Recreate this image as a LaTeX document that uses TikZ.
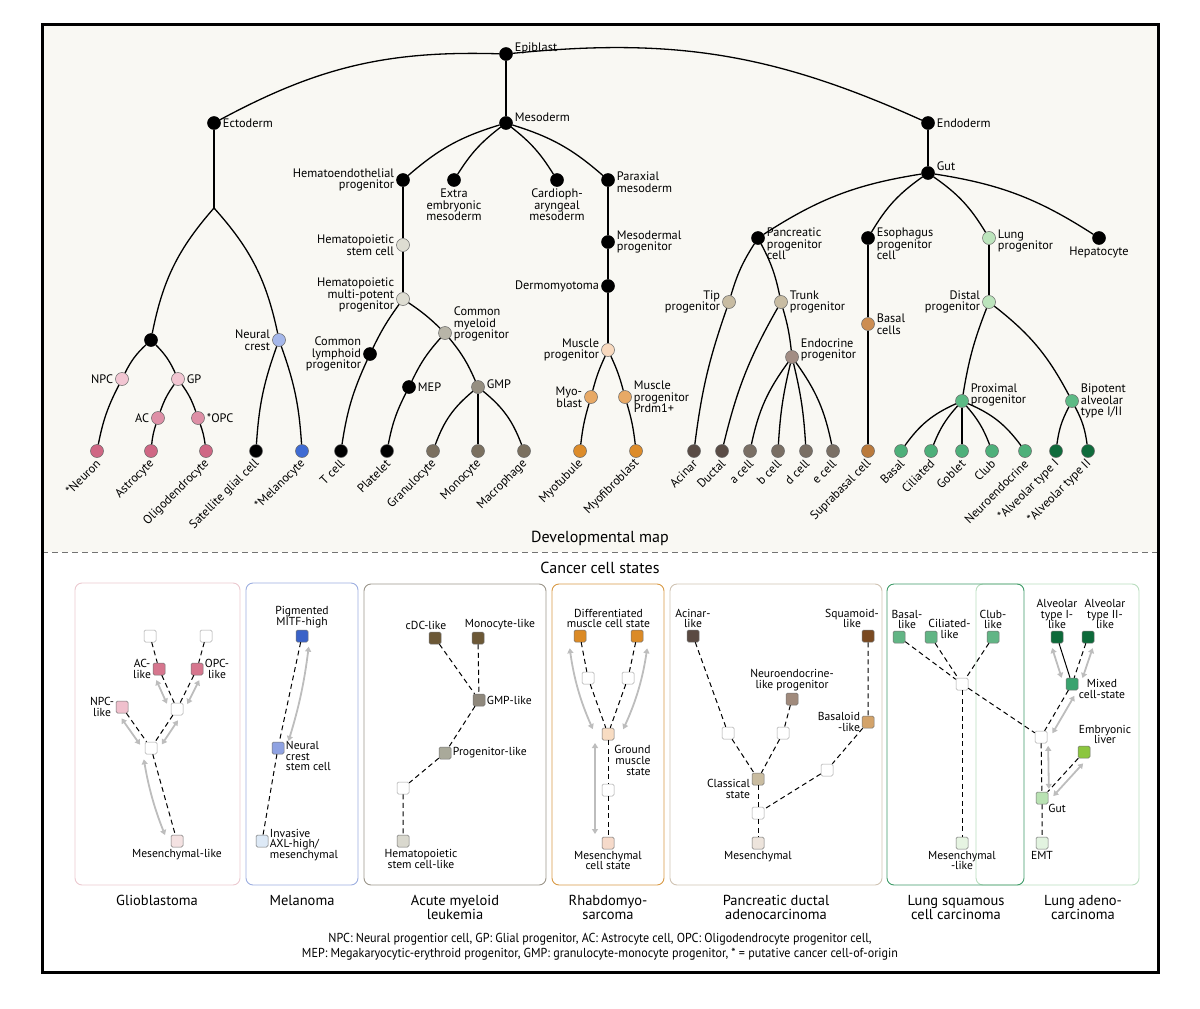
\documentclass[tikz,border=0pt]{standalone}
\usepackage{fontspec}
\setmainfont{PT Sans}
\newfontfamily\notefont[FakeStretch=0.93]{PT Sans}
\usetikzlibrary{arrows.meta,positioning,calc}

\definecolor{cCream}{HTML}{F9F8F3}
\definecolor{cNeurLight}{HTML}{F2C6D2}
\definecolor{cNeurMid}{HTML}{DE8FA6}
\definecolor{cNeurLeaf}{HTML}{CF6784}
\definecolor{cCrest}{HTML}{A5B7EA}
\definecolor{cMelano}{HTML}{3F6BD3}
\definecolor{cHsc}{HTML}{DEDDD2}
\definecolor{cCmp}{HTML}{B8B5A8}
\definecolor{cGmp}{HTML}{968F81}
\definecolor{cMyeLeaf}{HTML}{7B705F}
\definecolor{cMuscLight}{HTML}{F8D9BE}
\definecolor{cMuscMid}{HTML}{E8A965}
\definecolor{cMuscLeaf}{HTML}{DD8C2A}
\definecolor{cPanc}{HTML}{C8BCA2}
\definecolor{cEndoProg}{HTML}{A28D84}
\definecolor{cPancDark}{HTML}{5A4C45}
\definecolor{cEndoLeaf}{HTML}{7A6F64}
\definecolor{cBasalCell}{HTML}{CC8D52}
\definecolor{cEsoLeaf}{HTML}{BA7A3C}
\definecolor{cLungLight}{HTML}{BCE4BC}
\definecolor{cLungMid}{HTML}{5DBA85}
\definecolor{cLungLeaf}{HTML}{4EB07A}
\definecolor{cAlveo}{HTML}{0F6B3B}
\definecolor{cGbmMid}{HTML}{D6768E}
\definecolor{cGbmLight}{HTML}{F0C0CD}
\definecolor{cGbmPale}{HTML}{F4E2E2}
\definecolor{cMelDark}{HTML}{3A62C8}
\definecolor{cMelMid}{HTML}{8FA2E2}
\definecolor{cMelPale}{HTML}{DDE9F6}
\definecolor{cAmlDark}{HTML}{6C5836}
\definecolor{cAmlGmp}{HTML}{8F887C}
\definecolor{cAmlProg}{HTML}{A9A99A}
\definecolor{cAmlPale}{HTML}{D9D8CE}
\definecolor{cRmsDiff}{HTML}{DB8A26}
\definecolor{cRmsGround}{HTML}{F8DCC2}
\definecolor{cRmsMes}{HTML}{F6DACA}
\definecolor{cPdAcinar}{HTML}{5A4A42}
\definecolor{cPdSquam}{HTML}{7A4A22}
\definecolor{cPdNe}{HTML}{A08A7C}
\definecolor{cPdBasal}{HTML}{D3A36A}
\definecolor{cPdClass}{HTML}{C9BCA0}
\definecolor{cPdMes}{HTML}{EDE4DC}
\definecolor{cLsc}{HTML}{62B585}
\definecolor{cLscPale}{HTML}{E6F4E2}
\definecolor{cLadDark}{HTML}{0D6A3A}
\definecolor{cLadMixed}{HTML}{3AA36F}
\definecolor{cLadLiver}{HTML}{8CC63F}
\definecolor{cLadGut}{HTML}{B9E2B3}
\definecolor{cLadEmt}{HTML}{E2F3E0}
\definecolor{cFrGbm}{HTML}{EBC9CF}
\definecolor{cFrMel}{HTML}{9DAEE0}
\definecolor{cFrAml}{HTML}{9B958A}
\definecolor{cFrRms}{HTML}{D89A46}
\definecolor{cFrPd}{HTML}{CFC3B3}
\definecolor{cFrLsc}{HTML}{3E9A68}
\definecolor{cFrLad}{HTML}{B9DDBF}
\definecolor{cArrow}{HTML}{BDBDBD}

\newcommand{\treefont}{\fontsize{12.3}{11.6}\selectfont}
\newcommand{\statefont}{\fontsize{11.6}{10.9}\selectfont}
\newcommand{\captfont}{\fontsize{14.5}{14}\selectfont}
\newcommand{\statearrow}[5][]{%
  \draw[statearr] ($(#2)!#5!#4:(#3)$) to[#1] ($(#3)!#5!#4-180:(#2)$);}

\begin{document}
\begin{tikzpicture}[
    x=1pt, y=-1pt,
    cell/.style={circle, draw=black!60, line width=0.5pt, minimum size=13pt, inner sep=0pt},
    blk/.style={cell, draw=black, fill=black},
    lbl/.style={font=\treefont, inner sep=2pt, align=center},
    leaflbl/.style={font=\treefont, rotate=45, anchor=east, inner sep=1pt},
    branch/.style={line width=1.3pt},
    stbox/.style={rectangle, rounded corners=1.5pt, draw=black!55, line width=0.5pt, minimum size=12pt, inner sep=0pt},
    stblank/.style={stbox, fill=white, draw=black!35},
    stlbl/.style={font=\statefont, inner sep=1.5pt, align=center},
    transition/.style={line width=1pt, dash pattern=on 5pt off 3.5pt},
    statearr/.style={draw=cArrow, line width=1.8pt, {Triangle[length=5pt,width=6pt]}-{Triangle[length=5pt,width=6pt]}, shorten <=9pt, shorten >=9pt},
    panel/.style={rounded corners=7pt, line width=0.9pt},
    caption/.style={font=\captfont, align=center, anchor=north}
]
\useasboundingbox (0,0) rectangle (1200,1009);
\fill[cCream] (42,24) rectangle (1158,552);
\draw[black!55, line width=0.8pt, dash pattern=on 6pt off 4pt] (42,552) -- (1158,552);

\node[blk, label={[lbl, yshift=6pt]right:Epiblast}] (epi) at (506,54) {};
\node[blk, label={[lbl]right:Ectoderm}] (ecto) at (214,123) {};
\coordinate (ectsplit) at (214,208);
\node[blk] (neuroect) at (151,340) {};
\node[cell, fill=cNeurLight, label={[lbl]left:NPC}] (npc) at (122,379) {};
\node[cell, fill=cNeurLight, label={[lbl]right:GP}] (gp) at (178,379) {};
\node[cell, fill=cNeurMid, label={[lbl]left:AC}] (ac) at (158,418) {};
\node[cell, fill=cNeurMid, label={[lbl]right:*OPC}] (opc) at (198,418) {};
\node[cell, fill=cCrest, label={[lbl, align=right]left:{Neural\\crest}}] (crest) at (279,340) {};

\node[blk, label={[lbl, yshift=6pt]right:Mesoderm}] (meso) at (506,123) {};
\node[blk, label={[lbl, align=right]left:{Hematoendothelial\\progenitor}}] (hemendo) at (403,180) {};
\node[blk, label={[lbl]below:{Extra\\embryonic\\mesoderm}}] (extra) at (454,180) {};
\node[blk, label={[lbl]below:{Cardioph-\\aryngeal\\mesoderm}}] (cardio) at (557,180) {};
\node[blk, label={[lbl, align=left, yshift=-2pt]right:{Paraxial\\mesoderm}}] (parax) at (608,180) {};
\node[cell, fill=cHsc, label={[lbl, align=right]left:{Hematopoietic\\stem cell}}] (hsc) at (403,245) {};
\node[cell, fill=cHsc, label={[lbl, align=right, yshift=4pt]left:{Hematopoietic\\multi-potent\\progenitor}}] (hmpp) at (403,299) {};
\node[blk, label={[lbl, align=right]left:{Common\\lymphoid\\progenitor}}] (clp) at (370,354) {};
\node[cell, fill=cCmp, label={[lbl, align=left, yshift=9pt]right:{Common\\myeloid\\progenitor}}] (cmp) at (445,333) {};
\node[blk, label={[lbl]right:MEP}] (mep) at (409,387) {};
\node[cell, fill=cGmp, label={[lbl, yshift=3pt]right:GMP}] (gmp) at (478,387) {};
\node[blk, label={[lbl, align=left]right:{Mesodermal\\progenitor}}] (mesoprog) at (608,242) {};
\node[blk, label={[lbl]left:Dermomyotoma}] (dermo) at (608,286) {};
\node[cell, fill=cMuscLight, label={[lbl, align=right]left:{Muscle\\progenitor}}] (muscprog) at (608,350) {};
\node[cell, fill=cMuscMid, label={[lbl, align=right]left:{Myo-\\blast}}] (myoblast) at (591,397) {};
\node[cell, fill=cMuscMid, label={[lbl, align=left]right:{Muscle\\progenitor\\Prdm1+}}] (prdm) at (625,397) {};

\node[blk, label={[lbl]right:Endoderm}] (endo) at (928,123) {};
\node[blk, label={[lbl, yshift=7pt]right:Gut}] (gut) at (928,173) {};
\node[blk, label={[lbl, align=left, yshift=-6pt]right:{Pancreatic\\progenitor\\cell}}] (pancprog) at (758,238) {};
\node[blk, label={[lbl, align=left, yshift=-6pt]right:{Esophagus\\progenitor\\cell}}] (esoprog) at (868,238) {};
\node[cell, fill=cLungLight, label={[lbl, align=left, yshift=-3pt]right:{Lung\\progenitor}}] (lungprog) at (989,238) {};
\node[blk, label={[lbl]below:Hepatocyte}] (hepato) at (1099,238) {};
\node[cell, fill=cPanc, label={[lbl, align=right]left:{Tip\\progenitor}}] (tip) at (729,302) {};
\node[cell, fill=cPanc, label={[lbl, align=left]right:{Trunk\\progenitor}}] (trunk) at (781,302) {};
\node[cell, fill=cEndoProg, label={[lbl, align=left, yshift=7pt]right:{Endocrine\\progenitor}}] (endocr) at (792,357) {};
\node[cell, fill=cBasalCell, label={[lbl, align=left]right:{Basal\\cells}}] (basalcells) at (868,324) {};
\node[cell, fill=cLungLight, label={[lbl, align=right]left:{Distal\\progenitor}}] (distal) at (989,302) {};
\node[cell, fill=cLungMid, label={[lbl, align=left, yshift=6pt]right:{Proximal\\progenitor}}] (proximal) at (962,401) {};
\node[cell, fill=cLungMid, label={[lbl, align=left]right:{Bipotent\\alveolar\\type I/II}}] (bipot) at (1072,401) {};

\foreach \nm/\x/\col/\txt in {neuron/97/cNeurLeaf/*Neuron, astro/151/cNeurLeaf/Astrocyte,
    oligo/206/cNeurLeaf/Oligodendrocyte, satglia/256/black/Satellite glial cell,
    melano/302/cMelano/*Melanocyte, tcell/341/black/T cell, platelet/387/black/Platelet,
    granulo/433/cMyeLeaf/Granulocyte, mono/478/cMyeLeaf/Monocyte, macro/524/cMyeLeaf/Macrophage,
    myotub/580/cMuscLeaf/Myotubule, myofib/636/cMuscLeaf/Myofibroblast,
    acinar/694/cPancDark/Acinar, ductal/722/cPancDark/Ductal, acell/750/cEndoLeaf/a cell,
    bcell/778/cEndoLeaf/b cell, dcell/806/cEndoLeaf/d cell, ecell/833/cEndoLeaf/e cell,
    suprab/868/cEsoLeaf/Suprabasal cell, basal/901/cLungLeaf/Basal, cilia/931/cLungLeaf/Ciliated,
    goblet/962/cLungLeaf/Goblet, club/992/cLungLeaf/Club, neuroend/1025/cLungLeaf/Neuroendocrine,
    atone/1056/cAlveo/*Alveolar type I, attwo/1088/cAlveo/*Alveolar type II} {
  \node[cell, fill=\col] (\nm) at (\x,451) {};
  \node[leaflbl] at ([xshift=2pt, yshift=-10pt]\nm.center) {\txt};
}

\draw[branch] (epi) to[bend right=15] (ecto);
\draw[branch] (epi) -- (meso);
\draw[branch] (epi) to[bend left=15] (endo);
\draw[branch] (ecto) -- (ectsplit);
\draw[branch] (ectsplit) to[bend right=15] (neuroect);
\draw[branch] (ectsplit) to[bend left=15] (crest);
\draw[branch] (neuroect) to[bend right=10] (npc);
\draw[branch] (neuroect) to[bend left=10] (gp);
\draw[branch] (npc) to[bend right=8] (neuron);
\draw[branch] (gp) to[bend right=8] (ac);
\draw[branch] (gp) to[bend left=8] (opc);
\draw[branch] (ac) to[bend right=6] (astro);
\draw[branch] (opc) to[bend left=6] (oligo);
\draw[branch] (crest) to[bend right=8] (satglia);
\draw[branch] (crest) to[bend left=8] (melano);
\draw[branch] (meso) to[bend right=12] (hemendo);
\draw[branch] (meso) to[bend right=10] (extra);
\draw[branch] (meso) to[bend left=10] (cardio);
\draw[branch] (meso) to[bend left=12] (parax);
\draw[branch] (hemendo) -- (hsc) -- (hmpp);
\draw[branch] (hmpp) to[bend right=5] (clp);
\draw[branch] (hmpp) to[bend left=5] (cmp);
\draw[branch] (clp) to[bend right=8] (tcell);
\draw[branch] (cmp) to[bend right=8] (mep);
\draw[branch] (cmp) to[bend left=8] (gmp);
\draw[branch] (mep) to[bend right=8] (platelet);
\draw[branch] (gmp) to[bend right=15] (granulo);
\draw[branch] (gmp) -- (mono);
\draw[branch] (gmp) to[bend left=15] (macro);
\draw[branch] (parax) -- (mesoprog) -- (dermo) -- (muscprog);
\draw[branch] (muscprog) to[bend right=5] (myoblast);
\draw[branch] (muscprog) to[bend left=5] (prdm);
\draw[branch] (myoblast) to[bend right=5] (myotub);
\draw[branch] (prdm) to[bend left=5] (myofib);
\draw[branch] (endo) -- (gut);
\draw[branch] (gut) to[bend right=12] (pancprog);
\draw[branch] (gut) to[bend right=12] (esoprog);
\draw[branch] (gut) to[bend left=12] (lungprog);
\draw[branch] (gut) to[bend left=12] (hepato);
\draw[branch] (pancprog) to[bend right=8] (tip);
\draw[branch] (pancprog) to[bend left=8] (trunk);
\draw[branch] (tip) to[bend right=6] (acinar);
\draw[branch] (trunk) to[bend right=8] (ductal);
\draw[branch] (trunk) to[bend left=5] (endocr);
\draw[branch] (endocr) to[bend right=12] (acell);
\draw[branch] (endocr) to[bend right=5] (bcell);
\draw[branch] (endocr) to[bend left=5] (dcell);
\draw[branch] (endocr) to[bend left=12] (ecell);
\draw[branch] (esoprog) -- (basalcells) -- (suprab);
\draw[branch] (lungprog) -- (distal);
\draw[branch] (distal) to[bend right=6] (proximal);
\draw[branch] (distal) to[bend left=12] (bipot);
\draw[branch] (proximal) to[bend right=15] (basal);
\draw[branch] (proximal) to[bend right=10] (cilia);
\draw[branch] (proximal) -- (goblet);
\draw[branch] (proximal) to[bend left=10] (club);
\draw[branch] (proximal) to[bend left=15] (neuroend);
\draw[branch] (bipot) to[bend right=10] (atone);
\draw[branch] (bipot) to[bend left=10] (attwo);

\node[font=\fontsize{16}{16}\selectfont] at (600,538) {Developmental map};
\node[font=\fontsize{16}{16}\selectfont] at (600,568) {Cancer cell states};

\draw[panel, draw=cFrGbm] (75,583) rectangle (240,885);
\draw[panel, draw=cFrMel] (246,583) rectangle (358,885);
\draw[panel, draw=cFrAml] (364,584) rectangle (546,885);
\draw[panel, draw=cFrRms] (552,584) rectangle (664,885);
\draw[panel, draw=cFrPd] (670,584) rectangle (882,885);
\draw[panel, draw=cFrLad] (976,584) rectangle (1139,885);
\draw[panel, draw=cFrLsc] (887,584) rectangle (1024,885);

\node[caption] at (157,892) {Glioblastoma};
\node[caption] at (302,892) {Melanoma};
\node[caption] at (455,892) {Acute myeloid\\leukemia};
\node[caption] at (608,892) {Rhabdomyo-\\sarcoma};
\node[caption] at (776,892) {Pancreatic ductal\\adenocarcinoma};
\node[caption] at (956,892) {Lung squamous\\cell carcinoma};
\node[caption] at (1083,892) {Lung adeno-\\carcinoma};

\node[stblank] (gtopa) at (150,636) {};
\node[stblank] (gtopb) at (206,636) {};
\node[stbox, fill=cGbmMid, label={[stlbl]left:{AC-\\like}}] (aclike) at (159,669) {};
\node[stbox, fill=cGbmMid, label={[stlbl]right:{OPC-\\like}}] (opclike) at (197,669) {};
\node[stblank] (gmida) at (177,709) {};
\node[stbox, fill=cGbmLight, label={[stlbl]left:{NPC-\\like}}] (npclike) at (122,707) {};
\node[stblank] (gmidb) at (151,748) {};
\node[stbox, fill=cGbmPale, label={[stlbl]below:Mesenchymal-like}] (meslike) at (177,841) {};
\draw[transition] (gtopa) -- (aclike) -- (gmida);
\draw[transition] (gtopb) -- (opclike) -- (gmida);
\draw[transition] (gmida) -- (gmidb);
\draw[transition] (npclike) -- (gmidb);
\draw[transition] (gmidb) -- (meslike);
\statearrow{aclike}{gmida}{-90}{7pt}
\statearrow{opclike}{gmida}{90}{7pt}
\statearrow{npclike}{gmidb}{-90}{7pt}
\statearrow{gmida}{gmidb}{90}{7pt}
\statearrow[bend right=6]{gmidb}{meslike}{-90}{9pt}

\node[stbox, fill=cMelDark, label={[stlbl]above:{Pigmented\\MITF-high}}] (pigm) at (302,636) {};
\node[stbox, fill=cMelMid, label={[stlbl, align=left, yshift=-8pt]right:{Neural\\crest\\stem cell}}] (ncsc) at (278,748) {};
\node[stbox, fill=cMelPale, label={[stlbl, align=left, yshift=-4pt]right:{Invasive\\AXL-high/\\mesenchymal}}] (invasive) at (262,841) {};
\draw[transition] (pigm) -- (ncsc) -- (invasive);
\statearrow[bend left=5]{pigm}{ncsc}{90}{8pt}

\node[stbox, fill=cAmlDark, label={[stlbl, xshift=-9pt]above:cDC-like}] (cdc) at (435,638) {};
\node[stbox, fill=cAmlDark, label={[stlbl, xshift=22pt]above:Monocyte-like}] (monolike) at (478,638) {};
\node[stbox, fill=cAmlGmp, label={[stlbl]right:GMP-like}] (gmplike) at (479,700) {};
\node[stbox, fill=cAmlProg, label={[stlbl]right:Progenitor-like}] (proglike) at (445,753) {};
\node[stblank] (amlw) at (403,788) {};
\node[stbox, fill=cAmlPale, label={[stlbl, xshift=18pt]below:{Hematopoietic\\stem cell-like}}] (hsclike) at (403,841) {};
\draw[transition] (cdc) -- (gmplike);
\draw[transition] (monolike) -- (gmplike) -- (proglike) -- (amlw) -- (hsclike);

\node[stbox, fill=cRmsDiff] (diffa) at (580,636) {};
\node[stbox, fill=cRmsDiff] (diffb) at (637,636) {};
\node[stlbl, anchor=south] at ($(diffa.north)!0.5!(diffb.north)$) {Differentiated\\muscle cell state};
\node[stblank] (rmswa) at (588,678) {};
\node[stblank] (rmswb) at (628,678) {};
\node[stbox, fill=cRmsGround] (ground) at (608,734) {};
\node[stlbl, align=right, anchor=north west, inner sep=0pt] at ([yshift=-5pt]ground.south east) {Ground\\muscle\\state};
\node[stblank] (rmswc) at (608,790) {};
\node[stbox, fill=cRmsMes, label={[stlbl]below:{Mesenchymal\\cell state}}] (mescell) at (608,843) {};
\draw[transition] (diffa) -- (rmswa) -- (ground);
\draw[transition] (diffb) -- (rmswb) -- (ground);
\draw[transition] (ground) -- (rmswc) -- (mescell);
\statearrow[bend right=8]{diffa}{ground}{-90}{12pt}
\statearrow[bend left=8]{diffb}{ground}{90}{12pt}
\statearrow{ground}{mescell}{-90}{13pt}

\node[stbox, fill=cPdAcinar, label={[stlbl]above:{Acinar-\\like}}] (acinlike) at (693,636) {};
\node[stbox, fill=cPdSquam, label={[stlbl, xshift=-16pt]above:{Squamoid-\\like}}] (squam) at (868,636) {};
\node[stbox, fill=cPdNe, label={[stlbl]above:{Neuroendocrine-\\like progenitor}}] (nelike) at (792,699) {};
\node[stbox, fill=cPdBasal, label={[stlbl, align=right]left:{Basaloid\\-like}}] (basaloid) at (868,722) {};
\node[stblank] (pdwa) at (728,733) {};
\node[stblank] (pdwb) at (783,733) {};
\node[stbox, fill=cPdClass, label={[stlbl, align=right, yshift=-10pt]left:{Classical\\state}}] (classical) at (758,779) {};
\node[stblank] (pdwc) at (827,770) {};
\node[stblank] (pdwd) at (758,813) {};
\node[stbox, fill=cPdMes, label={[stlbl]below:Mesenchymal}] (pdmes) at (758,843) {};
\draw[transition] (acinlike) -- (pdwa) -- (classical);
\draw[transition] (nelike) -- (pdwb) -- (classical);
\draw[transition] (squam) -- (basaloid) -- (pdwc) -- (pdwd);
\draw[transition] (classical) -- (pdwd) -- (pdmes);

\node[stbox, fill=cLsc, label={[stlbl, xshift=8pt]above:{Basal-\\like}}] (basallike) at (899,637) {};
\node[stbox, fill=cLsc] (cilialike) at (931,637) {};
\node[stlbl, anchor=south west, inner sep=0pt] at ([xshift=-9pt, yshift=-8pt]cilialike.north east) {Ciliated-\\like};
\node[stbox, fill=cLsc, label={[stlbl]above:{Club-\\like}}] (clublike) at (993,637) {};
\node[stblank] (lscw) at (962,684) {};
\node[stbox, fill=cLscPale, label={[stlbl]below:{Mesenchymal\\-like}}] (lscmes) at (962,843) {};

\node[stbox, fill=cLadDark, label={[stlbl]above:{Alveolar\\type I-\\like}}] (atonelike) at (1057,637) {};
\node[stbox, fill=cLadDark, label={[stlbl, xshift=17pt]above:{Alveolar\\type II-\\like}}] (attwolike) at (1088,637) {};
\node[stbox, fill=cLadMixed, label={[stlbl, xshift=-1pt, yshift=-5pt]right:{Mixed\\cell-state}}] (mixed) at (1072,684) {};
\node[stblank] (ladw) at (1041,737) {};
\node[stbox, fill=cLadLiver, label={[stlbl, xshift=21pt]above:{Embryonic\\liver}}] (eliver) at (1084,752) {};
\node[stbox, fill=cLadGut] (gutlike) at (1042,798) {};
\node[stlbl, anchor=north west, inner sep=0pt] at (gutlike.south east) {Gut};
\node[stbox, fill=cLadEmt, label={[stlbl]below:EMT}] (emt) at (1042,843) {};

\draw[transition] (basallike) -- (lscw);
\draw[transition] (cilialike) -- (lscw);
\draw[transition] (clublike) -- (lscw);
\draw[transition] (lscw) -- (lscmes);
\draw[transition] (lscw) -- (ladw);
\draw[line width=1pt] (atonelike) -- (mixed);
\draw[transition] (attwolike) -- (mixed) -- (ladw) -- (gutlike) -- (emt);
\draw[transition] (eliver) -- (gutlike);
\statearrow{atonelike}{mixed}{-90}{8pt}
\statearrow{attwolike}{mixed}{90}{8pt}
\statearrow{mixed}{ladw}{90}{8pt}
\statearrow{ladw}{gutlike}{90}{7pt}
\statearrow{eliver}{gutlike}{90}{7pt}

\node[font=\notefont\fontsize{13}{15}\selectfont, align=center] at (600,947) {NPC: Neural progentior cell, GP: Glial progenitor, AC: Astrocyte cell, OPC: Oligodendrocyte progenitor cell,\\MEP: Megakaryocytic-erythroid progenitor, GMP: granulocyte-monocyte progenitor, * = putative cancer cell-of-origin};

\draw[line width=3pt] (42,24) rectangle (1158,972);
\end{tikzpicture}
\end{document}
